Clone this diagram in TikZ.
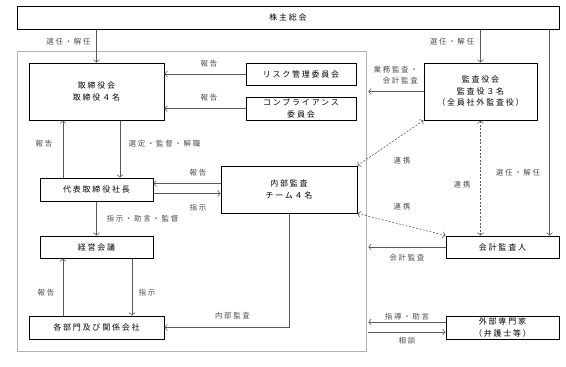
\documentclass[tikz,border=0pt]{standalone}
\usepackage{fontspec}
\newfontfamily\jpfont{Noto Sans CJK JP}[LetterSpace=22]
\usepackage{tikz}
\usetikzlibrary{arrows.meta, positioning, calc}

\begin{document}
\begin{tikzpicture}[x=1pt, y=-1pt,
    % organisation boxes
    orgbox/.style={rectangle, draw=black, line width=1pt, inner sep=0pt,
                   align=center, font=\jpfont\fontsize{8}{11.5}\selectfont},
    % governance frame (light grey)
    govframe/.style={rectangle, draw=black!30, line width=0.6pt, inner sep=0pt,
                     minimum width=349pt, minimum height=300pt},
    % connector labels
    lbl/.style={inner sep=0pt, align=center, text=black!70,
                font=\jpfont\fontsize{7.5}{11}\selectfont},
    arrow/.style={-{Straight Barb[length=2.5pt,width=6pt]}, draw=black!65, line width=0.6pt},
    linkarrow/.style={{Straight Barb[length=2.5pt,width=6pt]}-{Straight Barb[length=2.5pt,width=6pt]},
                      draw=black!65, line width=0.6pt, dash pattern=on 2pt off 1.5pt}
]
\useasboundingbox (0,0) rectangle (566,367);

%-------- FRAME --------
\node[govframe] (inner) at (191.5,201) {};

%-------- BOXES --------
\node[orgbox, minimum width=542pt, minimum height=23pt] (agm) at (288,17.5) {株主総会};
\node[orgbox, minimum width=135pt, minimum height=57pt] (board) at (96.5,91.5) {取締役会\\取締役４名};
\node[orgbox, minimum width=110pt, minimum height=22pt] (risk) at (301,74) {リスク管理委員会};
\node[orgbox, minimum width=110pt, minimum height=23pt] (comp) at (301,108.5) {コンプライアンス\\委員会};
\node[orgbox, minimum width=113pt, minimum height=57pt] (kansa) at (480.5,91.5) {監査役会\\監査役３名\\（全員社外監査役）};
\node[orgbox, minimum width=113pt, minimum height=23pt] (pres) at (96.5,189.5) {代表取締役社長};
\node[orgbox, minimum width=136pt, minimum height=47pt] (audit) at (289,189.5) {内部監査\\チーム４名};
\node[orgbox, minimum width=113pt, minimum height=22pt] (mgmt) at (96.5,247) {経営会議};
\node[orgbox, minimum width=135pt, minimum height=23pt] (depts) at (96.5,327.5) {各部門及び関係会社};
\node[orgbox, minimum width=113pt, minimum height=22pt] (auditor) at (502.5,247) {会計監査人};
\node[orgbox, minimum width=113pt, minimum height=23pt] (expert) at (502.5,327.5) {外部専門家\\（弁護士等）};

%-------- ARROWS: shareholders --------
\coordinate (rline) at ($(auditor.north east)+(-10,0)$);
\draw[arrow] (board.north |- agm.south) -- (board.north);
\draw[arrow] (kansa.north |- agm.south) -- (kansa.north);
\draw[arrow] (rline |- agm.south) -- (rline);

%-------- ARROWS: board side --------
\draw[arrow] (risk.west) -- (risk.west -| board.east);
\draw[arrow] (comp.west) -- (comp.west -| board.east);
\draw[arrow] ($(pres.north)+(-33.5,0)$) -- ($(board.south)+(-33.5,0)$);
\draw[arrow] ($(board.south)+(23.5,0)$) -- ($(pres.north)+(23.5,0)$);
\draw[arrow] ($(audit.west)+(0,-6)$) -- ($(audit.west -| pres.east)+(0,-6)$);
\draw[arrow] ($(pres.east)+(0,4)$) -- ($(pres.east -| audit.west)+(0,4)$);
\draw[arrow] (pres) -- (mgmt);
\draw[arrow] ($(depts.north)+(-33.5,0)$) -- ($(mgmt.south)+(-33.5,0)$);
\draw[arrow] ($(mgmt.south)+(35.5,0)$) -- ($(depts.north)+(35.5,0)$);
\draw[arrow] (audit.south) |- (depts.east);

%-------- ARROWS: audit side --------
\draw[arrow] (kansa.west) -- ($(kansa.west -| inner.east)+(2,0)$);
\draw[arrow] (auditor.west) -- ($(auditor.west -| inner.east)+(2,0)$);
\draw[arrow] ($(expert.west)+(0,-5.5)$) -- ($(expert.west -| inner.east)+(2,-5.5)$);
\draw[arrow] ($(expert.west -| inner.east)+(2,4.5)$) -- ($(expert.west)+(0,4.5)$);
\draw[linkarrow] (kansa.south west) -- (audit.north east);
\draw[linkarrow] (audit.south east) -- (auditor.north west);
\draw[linkarrow] (kansa.south) -- (kansa.south |- auditor.north);

%-------- LABELS --------
\node[lbl] (l_elect1) at (68.5,42) {選任・解任};
\node[lbl] (l_elect2) at (452,42) {選任・解任};
\node[lbl] (l_rep1) at (209,64) {報告};
\node[lbl] (l_rep2) at (209,98) {報告};
\node[lbl, align=right, anchor=east] (l_audits) at (418,75.5) {業務監査・\\会計監査};
\node[lbl] (l_rep3) at (44,144) {報告};
\node[lbl] (l_select) at (164.5,144) {選定・監督・解職};
\node[lbl] (l_rep4) at (198,173) {報告};
\node[lbl] (l_instr1) at (198,208) {指示};
\node[lbl] (l_guide) at (142.5,219) {指示・助言・監督};
\node[lbl] (l_rep5) at (46,293) {報告};
\node[lbl] (l_instr2) at (147,293) {指示};
\node[lbl] (l_internal) at (232.5,316) {内部監査};
\node[lbl] (l_link1) at (402,161) {連携};
\node[lbl] (l_link2) at (462,185) {連携};
\node[lbl] (l_link3) at (402,207) {連携};
\node[lbl] (l_elect3) at (518,173) {選任・解任};
\node[lbl] (l_acct) at (407,258) {会計監査};
\node[lbl] (l_advice) at (407,317) {指導・助言};
\node[lbl] (l_consult) at (407,341) {相談};

\end{tikzpicture}
\end{document}
